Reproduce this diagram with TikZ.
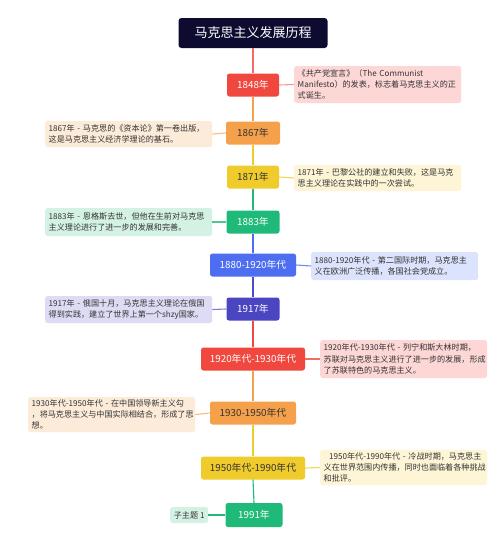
\documentclass[tikz,border=0pt]{standalone}
\usepackage{fontspec}
\setmainfont{Noto Sans CJK SC}
\begin{document}
\begin{tikzpicture}[x=1pt,y=-1pt,
  topic/.style={rounded corners=2.5pt, minimum height=23pt, inner sep=0pt, font=\fontsize{9.8}{11}\selectfont},
  note/.style={rounded corners=2.5pt, anchor=west, inner xsep=3.5pt, inner ysep=2.5pt, text width=160pt, align=left, text=black!80, font=\fontsize{8.1}{11.3}\selectfont},
  link/.style={line width=1.1pt}]
\definecolor{cred}{HTML}{F0473E}
\definecolor{cora}{HTML}{F5A04B}
\definecolor{cyel}{HTML}{F0CB2C}
\definecolor{cgrn}{HTML}{1FBA79}
\definecolor{cblu}{HTML}{4E6EF2}
\definecolor{cind}{HTML}{4A45C0}
\definecolor{lred}{HTML}{FDD6D6}
\definecolor{lora}{HTML}{FDEBD9}
\definecolor{lyel}{HTML}{FDF5D6}
\definecolor{lgrn}{HTML}{D4F2E4}
\definecolor{lblu}{HTML}{DCE3FD}
\definecolor{lind}{HTML}{DDDCF4}
\definecolor{navy}{HTML}{0D0B30}
\useasboundingbox (0,0) rectangle (498,547);
\fill[white] (0,0) rectangle (498,547);

% title
\node[fill=navy, text=white, rounded corners=3pt, minimum width=149pt, minimum height=30pt, font=\fontsize{13}{15}\selectfont] (title) at (253,33) {马克思主义发展历程};

% topics
\node[topic, fill=cred, text=white, minimum width=52pt] (t1) at (253,85) {1848年};
\node[topic, fill=cora, text=black!80, minimum width=54pt] (t2) at (253,133) {1867年};
\node[topic, fill=cyel, text=black!80, minimum width=52pt] (t3) at (253,177) {1871年};
\node[topic, fill=cgrn, text=white, minimum width=53pt] (t4) at (253,222) {1883年};
\node[topic, fill=cblu, text=white, minimum width=86pt] (t5) at (253,265) {1880-1920年代};
\node[topic, fill=cind, text=white, minimum width=53pt] (t6) at (253,309) {1917年};
\node[topic, fill=cred, text=white, minimum width=104pt] (t7) at (253,359) {1920年代-1930年代};
\node[topic, fill=cora, text=black!80, minimum width=86pt] (t8) at (253,413) {1930-1950年代};
\node[topic, fill=cyel, text=black!80, minimum width=104pt] (t9) at (253,468) {1950年代-1990年代};
\node[topic, fill=cgrn, text=white, minimum width=57pt, minimum height=24pt] (t10) at (254,515) {1991年};

% spine
\draw[link, cred!80] (title.south) -- (t1.north);
\draw[link, cora] (t1.south) -- (t2.north);
\draw[link, cyel] (t2.south) -- (t3.north);
\draw[link, cgrn] (t3.south) -- (t4.north);
\draw[link, cblu] (t4.south) -- (t5.north);
\draw[link, cind!80!cblu] (t5.south) -- (t6.north);
\draw[link, cred] (t6.south) -- (t7.north);
\draw[link, cora] (t7.south) -- (t8.north);
\draw[link, cyel] (t8.south) -- (t9.north);
\draw[link, cgrn] (t9.south) -- (t10.north);

% notes
\node[note, fill=lred, minimum height=37pt] (n1) at (294,84.5) {《共产党宣言》（The Communist\\Manifesto）的发表，标志着马克思主义的正\\式诞生。};
\node[note, fill=lora, minimum height=26pt] (n2) at (45,134) {1867年 - 马克思的《资本论》第一卷出版，\\这是马克思主义经济学理论的基石。};
\node[note, fill=lyel, minimum height=26pt] (n3) at (294,178) {1871年 - 巴黎公社的建立和失败，这是马克\\思主义理论在实践中的一次尝试。};
\node[note, fill=lgrn, minimum height=28pt] (n4) at (45,222) {1883年 - 恩格斯去世，但他在生前对马克思\\主义理论进行了进一步的发展和完善。};
\node[note, fill=lblu, minimum height=28pt] (n5) at (311,266) {1880-1920年代 - 第二国际时期，马克思主\\义在欧洲广泛传播，各国社会党成立。};
\node[note, fill=lind, minimum height=27pt] (n6) at (45,309.5) {1917年 - 俄国十月，马克思主义理论在俄国\\得到实践，建立了世界上第一个shzy国家。};
\node[note, fill=lred, minimum height=38pt] (n7) at (320,359) {1920年代-1930年代 - 列宁和斯大林时期，\\苏联对马克思主义进行了进一步的发展，形成\\了苏联特色的马克思主义。};
\node[note, fill=lora, minimum height=35pt] (n8) at (28,414.5) {1930年代-1950年代 - 在中国领导新主义勾\\，将马克思主义与中国实际相结合，形成了思\\想。};
\node[note, fill=lyel, minimum height=35pt] (n9) at (320,467.5) {\ \ 1950年代-1990年代 - 冷战时期，马克思主\\义在世界范围内传播，同时也面临着各种挑战\\和批评。};
\node[note, fill=lgrn, text width=, minimum width=38pt, minimum height=16pt, inner xsep=3pt] (n10) at (170,515) {子主题 1};

% branches
\draw[link, cred!55] (t1.east) -- (n1.west);
\draw[link, cora!70] (t2.west) -- (n2.east);
\draw[link, cyel!80] (t3.east) -- (n3.west);
\draw[link, cgrn!80] (t4.west) -- (n4.east);
\draw[link, cblu!80] (t5.east) -- (n5.west);
\draw[link, cind!70] (t6.west) -- (n6.east);
\draw[link, cred!80] (t7.east) -- (n7.west);
\draw[link, cora!70] (t8.west) -- (n8.east);
\draw[link, cyel!80] (t9.east) -- (n9.west);
\draw[link, cgrn] (t10.west) -- (n10.east);
\end{tikzpicture}
\end{document}
